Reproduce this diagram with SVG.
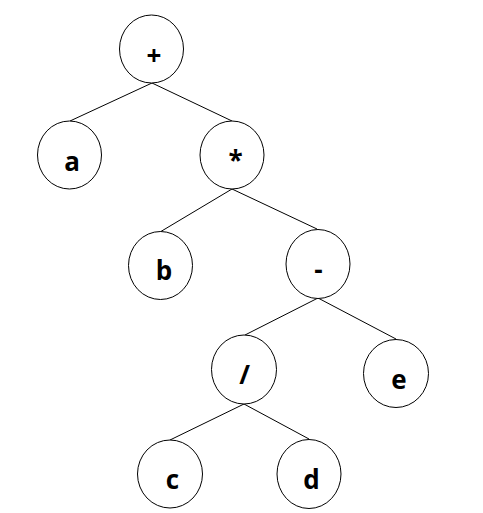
<svg xmlns="http://www.w3.org/2000/svg" width="483" height="513" viewBox="0 0 483 513">
<style>
.n ellipse{fill:#fff;stroke:#000;stroke-width:1}
.n text{font-family:"Open Sans","Liberation Sans",sans-serif;font-weight:bold;font-size:26px;text-anchor:middle;fill:#000}
#edges line{stroke:#000;stroke-width:1}
</style>
<rect width="483" height="513" fill="#fff"/>
<g id="edges">
<line x1="152" y1="83" x2="70" y2="121"/>
<line x1="152" y1="83" x2="232" y2="121"/>
<line x1="232" y1="189" x2="160" y2="232"/>
<line x1="232" y1="189" x2="317" y2="229"/>
<line x1="318" y1="298" x2="245" y2="335"/>
<line x1="318" y1="298" x2="396" y2="339"/>
<line x1="244" y1="404" x2="170" y2="440"/>
<line x1="244" y1="404" x2="309" y2="439"/>
</g>
<g id="n-plus" class="n"><ellipse cx="151.5" cy="49" rx="32" ry="34"/><text x="154" y="65">+</text></g>
<g id="n-a" class="n"><ellipse cx="69.5" cy="155" rx="32" ry="34"/><text x="72" y="171">a</text></g>
<g id="n-mul" class="n"><ellipse cx="232" cy="155" rx="32" ry="34"/><text x="235.5" y="170">*</text></g>
<g id="n-b" class="n"><ellipse cx="160.5" cy="265.5" rx="32" ry="34"/><text x="164" y="280">b</text></g>
<g id="n-minus" class="n"><ellipse cx="318" cy="264" rx="32" ry="34.5"/><text x="318.5" y="279">-</text></g>
<g id="n-div" class="n"><ellipse cx="244" cy="369.5" rx="32.5" ry="34.5"/><text x="244.5" y="383.5">/</text></g>
<g id="n-e" class="n"><ellipse cx="396" cy="373.5" rx="32.5" ry="34"/><text x="399" y="388.5">e</text></g>
<g id="n-c" class="n"><ellipse cx="170" cy="474" rx="32.5" ry="34"/><text x="172.5" y="488.5">c</text></g>
<g id="n-d" class="n"><ellipse cx="309" cy="474" rx="32" ry="34.5"/><text x="311.5" y="488.5">d</text></g>
</svg>
